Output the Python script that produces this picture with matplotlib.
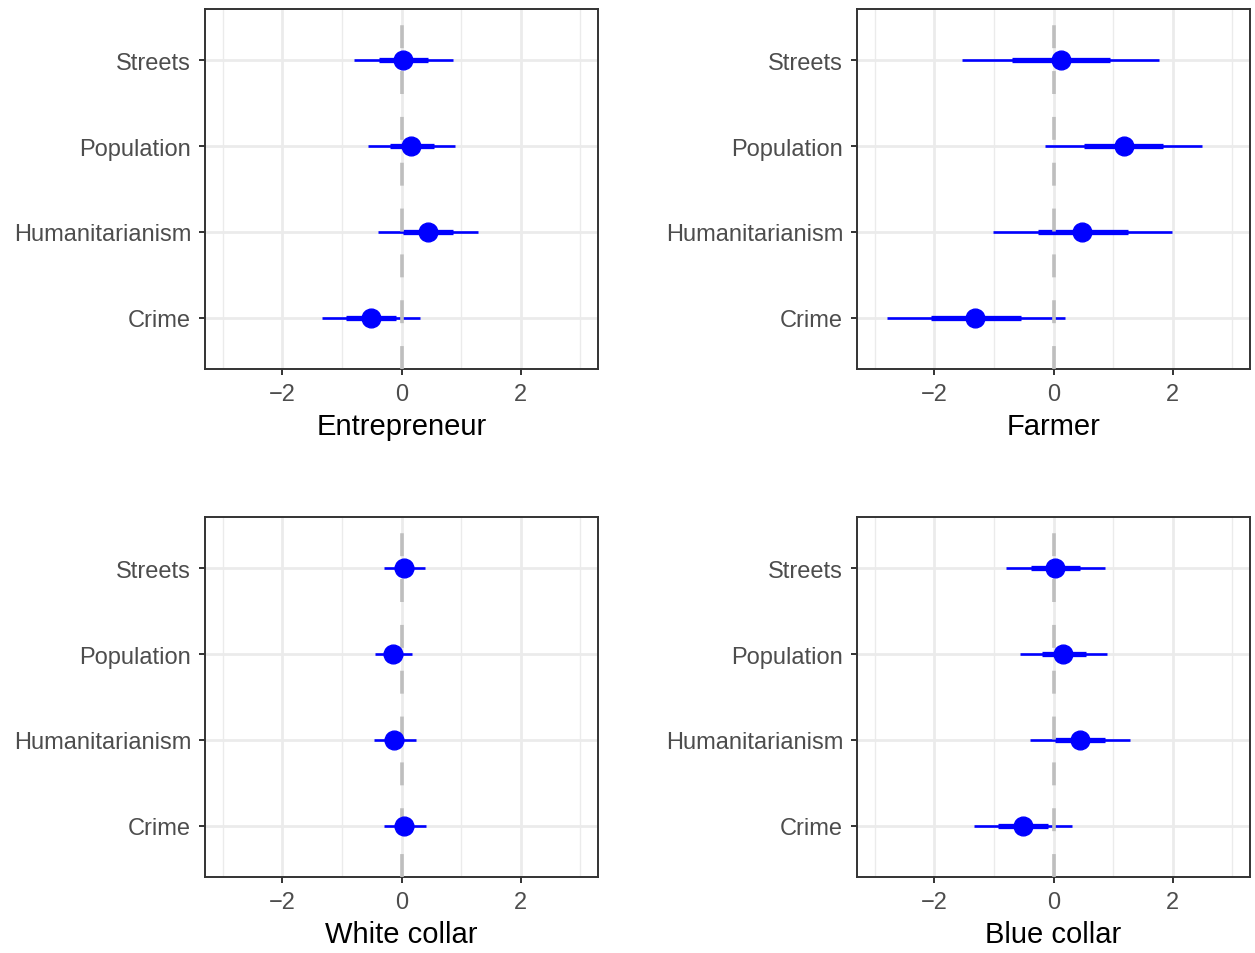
# Coefficient plot: four occupations, 4 frames each
import matplotlib.pyplot as plt
import numpy as np

plt.rcParams['font.family'] = ['Liberation Sans', 'DejaVu Sans']
plt.rcParams['lines.scale_dashes'] = False

frames = ['Crime', 'Humanitarianism', 'Population', 'Streets']
panels = ['Entrepreneur', 'Farmer', 'White collar', 'Blue collar']

# point estimates (Crime, Humanitarianism, Population, Streets)
est = {
    'Entrepreneur': [-0.52, 0.44, 0.16, 0.02],
    'Farmer':       [-1.31, 0.48, 1.18, 0.12],
    'White collar': [0.04, -0.12, -0.14, 0.04],
    'Blue collar':  [-0.52, 0.44, 0.16, 0.02],
}
# inner (thick) interval
lo_in = {
    'Entrepreneur': [-0.93, 0.02, -0.20, -0.38],
    'Farmer':       [-2.06, -0.26, 0.52, -0.70],
    'White collar': [-0.10, -0.26, -0.28, -0.10],
    'Blue collar':  [-0.93, 0.02, -0.20, -0.38],
}
hi_in = {
    'Entrepreneur': [-0.10, 0.87, 0.54, 0.45],
    'Farmer':       [-0.55, 1.25, 1.84, 0.95],
    'White collar': [0.18, 0.02, 0.00, 0.18],
    'Blue collar':  [-0.10, 0.87, 0.54, 0.45],
}
# outer (thin) interval
lo_out = {
    'Entrepreneur': [-1.34, -0.40, -0.57, -0.79],
    'Farmer':       [-2.80, -1.01, -0.14, -1.53],
    'White collar': [-0.30, -0.47, -0.45, -0.30],
    'Blue collar':  [-1.34, -0.40, -0.57, -0.79],
}
hi_out = {
    'Entrepreneur': [0.31, 1.28, 0.90, 0.86],
    'Farmer':       [0.19, 1.99, 2.50, 1.77],
    'White collar': [0.41, 0.25, 0.18, 0.40],
    'Blue collar':  [0.31, 1.28, 0.90, 0.86],
}

W, H = 1255, 954
fig = plt.figure(figsize=(W / 100, H / 100), dpi=100)
boxes = [(205, 10), (857, 10), (205, 518), (857, 518)]
blue = '#0000FF'
y = np.arange(1, len(frames) + 1)

for name, (px, py) in zip(panels, boxes):
    ax = fig.add_axes([px / W, (H - py - 360) / H, 393 / W, 360 / H])
    ax.set_xlim(-3.3, 3.3)
    ax.set_ylim(0.4, 4.6)
    ax.set_xticks([-2, 0, 2])
    ax.set_xticks([-3, -1, 1, 3], minor=True)
    ax.set_xticklabels(['\u22122', '0', '2'])
    ax.set_yticks(y)
    ax.set_yticklabels(frames)
    ax.grid(which='major', color='#EBEBEB', lw=2.0, zorder=0)
    ax.grid(which='minor', axis='x', color='#EBEBEB', lw=1.0, zorder=0)
    ax.set_axisbelow(True)
    ax.hlines(y, lo_out[name], hi_out[name], color=blue, lw=1.9, zorder=2)
    ax.hlines(y, lo_in[name], hi_in[name], color=blue, lw=3.8, zorder=2)
    ax.axvline(0, color='#BEBEBE', lw=2.6, dashes=(16.5, 16.5), zorder=3)
    ax.plot(est[name], y, 'o', color=blue, ms=13.5, zorder=4)
    ax.tick_params(which='major', length=4, width=1.4, color='#333333',
                   labelsize=17, labelcolor='#4D4D4D', pad=6)
    ax.tick_params(which='minor', length=0)
    for s in ax.spines.values():
        s.set_color('#333333')
        s.set_linewidth(1.4)
    ax.set_xlabel(name, fontsize=21, color='black', labelpad=5)

fig.savefig('out.png', dpi=100)
